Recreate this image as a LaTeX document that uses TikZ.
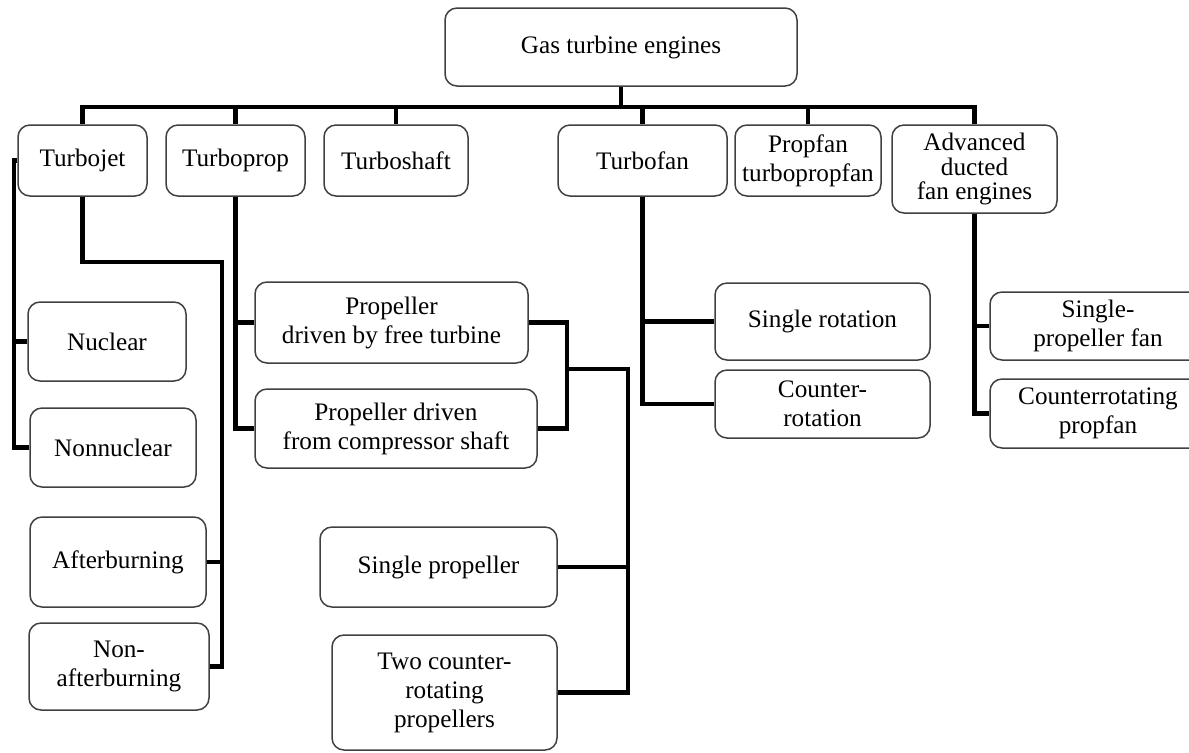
\documentclass[tikz,border=0pt]{standalone}
\usepackage{fontspec}
\setmainfont{Liberation Serif}
\usetikzlibrary{positioning}

\begin{document}
\begin{tikzpicture}[x=0.5pt,y=-0.5pt]
  \tikzstyle{box}=[draw=black!75,line width=0.75pt,rounded corners=6pt,align=center,inner sep=0pt,
    font=\fontsize{12.6}{14.5}\selectfont]
  \tikzstyle{link}=[line width=2.3pt,black]
  \useasboundingbox (0,0) rectangle (1189,752);

  \node[box,minimum width=176pt,minimum height=39pt] (root) at (621,47) {Gas turbine engines};

  \node[box,minimum width=64.5pt,minimum height=35.5pt] (jet) at (82.5,160.5) {Turbojet};
  \node[box,minimum width=69.5pt,minimum height=35.5pt] (tprop) at (235.5,160.5) {Turboprop};
  \node[box,minimum width=72pt,minimum height=35.5pt] (tshaft) at (396,160.5) {Turboshaft};
  \node[box,minimum width=84.5pt,minimum height=35.5pt] (tfan) at (642.5,160.5) {Turbofan};
  \node[box,minimum width=73pt,minimum height=35.5pt] (pfan) at (808,160.5) {Propfan\\turbopropfan};
  \node[box,minimum width=82.5pt,minimum height=44pt,font=\fontsize{12.6}{12.3}\selectfont] (adv) at (974.5,169) {Advanced\\ducted\\fan engines};

  \node[box,minimum width=79pt,minimum height=39.5pt] (nuc) at (107,341.5) {Nuclear};
  \node[box,minimum width=83pt,minimum height=39.5pt] (nonnuc) at (113,447.5) {Nonnuclear};
  \node[box,minimum width=88pt,minimum height=45pt] (ab) at (118,562) {Afterburning};
  \node[box,minimum width=90pt,minimum height=43.5pt] (nonab) at (119,666.5) {Non-\\afterburning};

  \node[box,minimum width=136.5pt,minimum height=40.5pt] (pft) at (391.5,322.5) {Propeller\\driven by free turbine};
  \node[box,minimum width=141pt,minimum height=39.5pt] (pdc) at (396,428.5) {Propeller driven\\from compressor shaft};
  \node[box,minimum width=118.5pt,minimum height=40pt] (sp) at (438.5,567) {Single propeller};
  \node[box,minimum width=112.5pt,minimum height=57.5pt] (tcr) at (444.5,692.5) {Two counter-\\rotating\\propellers};

  \node[box,minimum width=107.5pt,minimum height=38.5pt] (sr) at (822.5,321.5) {Single rotation};
  \node[box,minimum width=107.5pt,minimum height=34pt] (cr) at (822.5,404) {Counter-\\rotation};

  \node[box,minimum width=108pt,minimum height=34pt] (spf) at (1098,326) {Single-\\propeller fan};
  \node[box,minimum width=108pt,minimum height=34.5pt] (crp) at (1098,413.5) {Counterrotating\\propfan};

  % top level bus
  \coordinate (bus) at (621,107);
  \draw[link] (root.south) -- (bus);
  \draw[link] (jet.north) |- (bus) -| (adv.north);
  \foreach \n in {tprop,tshaft,tfan,pfan}
    \draw[link] (\n.north) -- (\n.north |- bus);

  % turbojet
  \coordinate (jetL) at (14,160.5);
  \coordinate (jetR) at (222,262);
  \draw[link] (jet.west) -- (jetL) |- (nonnuc.west);
  \draw[link] (nuc.west) -- (nuc.west -| jetL);
  \draw[link] (jet.south) |- (jetR) |- (nonab.east);
  \draw[link] (ab.east) -- (ab.east -| jetR);

  % turboprop
  \coordinate (pb) at (567,369);
  \coordinate (pc) at (628,369);
  \draw[link] (tprop.south) |- (pdc.west);
  \draw[link] (pft.west) -- (pft.west -| tprop.south);
  \draw[link] (pft.east) -| (pb) |- (pdc.east);
  \draw[link] (pb) -- (pc) |- (tcr.east);
  \draw[link] (sp.east) -- (sp.east -| pc);

  % turbofan
  \draw[link] (tfan.south) |- (cr.west);
  \draw[link] (sr.west) -- (sr.west -| tfan.south);

  % advanced ducted fan
  \draw[link] (adv.south) |- (crp.west);
  \draw[link] (spf.west) -- (spf.west -| adv.south);
\end{tikzpicture}
\end{document}
